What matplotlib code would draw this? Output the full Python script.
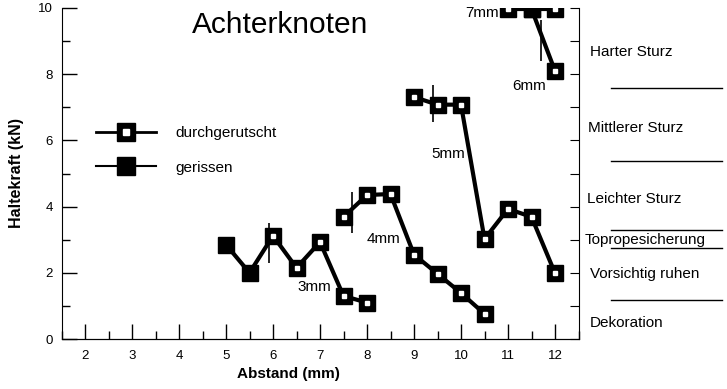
import matplotlib
matplotlib.use('Agg')
import matplotlib.pyplot as plt
from matplotlib.lines import Line2D
from matplotlib.legend_handler import HandlerTuple
from matplotlib.ticker import MultipleLocator

plt.rcParams['font.family'] = ['Liberation Sans', 'DejaVu Sans']

# data: each rope test run (x = Abstand in mm, y = Haltekraft in kN)
# filled = gerissen, open = durchgerutscht
x_3mm = [5, 5.5, 6, 6.5, 7, 7.5, 8]
y_3mm = [2.85, 2.0, 3.12, 2.15, 2.93, 1.3, 1.1]
torn_3mm = [True, True, False, False, False, False, False]

x_4mm = [7.5, 8, 8.5, 9, 9.5, 10, 10.5]
y_4mm = [3.69, 4.35, 4.38, 2.55, 1.97, 1.39, 0.76]
torn_4mm = [False] * 7

x_5mm = [9, 9.5, 10, 10.5, 11, 11.5, 12]
y_5mm = [7.31, 7.08, 7.08, 3.02, 3.93, 3.69, 1.99]
torn_5mm = [False] * 7

x_6mm = [11.5, 12]
y_6mm = [9.97, 8.1]
torn_6mm = [True, False]

x_7mm = [11, 11.5, 12]
y_7mm = [9.97, 9.97, 9.97]
torn_7mm = [False, True, False]

# vertical error bars (x, low, high)
err_x = [5.91, 7.68, 9.40, 11.70]
err_lo = [2.3, 3.2, 6.56, 8.4]
err_hi = [3.5, 4.44, 7.67, 9.64]

# series labels
labels = ['3mm', '4mm', '5mm', '6mm', '7mm']
label_x = [6.53, 8.0, 9.36, 11.09, 10.1]
label_y = [1.57, 3.02, 5.59, 7.64, 9.85]

# fall categories on the right
cat_names = ['Harter Sturz', 'Mittlerer Sturz', 'Leichter Sturz',
             'Topropesicherung', 'Vorsichtig ruhen', 'Dekoration']
cat_px = [(590, 52), (588, 128), (587, 199), (585, 240), (590, 274), (590, 323)]
sep_py = [88, 161, 230, 248, 300]

W, H = 727, 389
fig = plt.figure(figsize=(W / 100, H / 100), dpi=100)
ax = fig.add_axes([61.5 / W, 1 - 339 / H, (578.5 - 61.5) / W, (339 - 8) / H])

series = [(x_3mm, y_3mm, torn_3mm), (x_4mm, y_4mm, torn_4mm),
          (x_5mm, y_5mm, torn_5mm), (x_7mm, y_7mm, torn_7mm),
          (x_6mm, y_6mm, torn_6mm)]

for xs, ys, torn in series:
    ax.plot(xs, ys, color='black', lw=3, zorder=2)
    ax.plot(xs, ys, ls='none', marker='s', ms=12, mfc='black', mec='black', zorder=3)
    xo = [a for a, t in zip(xs, torn) if not t]
    yo = [b for b, t in zip(ys, torn) if not t]
    # little white notch inside the open markers
    ax.plot(xo, yo, ls='none', marker='s', ms=3.5, mfc='white', mec='white', zorder=4)

ax.vlines(err_x, err_lo, err_hi, color='black', lw=1.2, zorder=5)

for t, lx, ly in zip(labels, label_x, label_y):
    ax.text(lx, ly, t, fontsize=11, ha='left', va='center')

ax.text(6.15, 9.5, 'Achterknoten', fontsize=21.5, ha='center', va='center')

ax.set_xlim(1.5, 12.5)
ax.set_ylim(0, 10)
ax.spines['top'].set_visible(False)
ax.spines['right'].set_visible(False)
ax.xaxis.set_major_locator(MultipleLocator(1))
ax.xaxis.set_minor_locator(MultipleLocator(0.5))
ax.yaxis.set_major_locator(MultipleLocator(2))
ax.yaxis.set_minor_locator(MultipleLocator(1))
ax.tick_params(which='major', direction='in', length=10.5, width=1, labelsize=9.5)
ax.tick_params(which='minor', direction='in', length=5.5, width=1)
ax.tick_params(axis='x', which='major', pad=8)
ax.tick_params(axis='y', which='major', pad=6)
ax.set_xlabel('Abstand (mm)', fontsize=11, fontweight='bold', labelpad=4)
ax.xaxis.set_label_coords((288 - 61.5) / 517, -0.085)
ax.set_ylabel('Haltekraft (kN)', fontsize=11.5, fontweight='bold', labelpad=10)

# right axis with plain ticks every 1 kN
ax2 = ax.twinx()
ax2.set_ylim(0, 10)
ax2.spines['top'].set_visible(False)
ax2.spines['left'].set_visible(False)
ax2.yaxis.set_major_locator(MultipleLocator(1))
ax2.tick_params(direction='in', length=6.5, labelright=False)

# legend
open_h = (Line2D([], [], color='black', lw=2, marker='s', ms=13.5, mfc='black', mec='black'),
          Line2D([], [], ls='none', marker='s', ms=4, mfc='white', mec='white'))
torn_h = Line2D([], [], color='black', lw=1.5, marker='s', ms=13.5, mfc='black', mec='black')
ax.legend([open_h, torn_h], ['durchgerutscht', 'gerissen'],
          handler_map={tuple: HandlerTuple(ndivide=1, pad=0)},
          loc='upper left', bbox_to_anchor=(0.04, 0.685), frameon=False,
          fontsize=11, handlelength=3.9, handletextpad=1.3, labelspacing=1.35)

for name, (px, py) in zip(cat_names, cat_px):
    fig.text(px / W, 1 - py / H, name, fontsize=11, ha='left', va='center')
for py in sep_py:
    fig.add_artist(Line2D([611 / W, 722 / W], [1 - py / H, 1 - py / H],
                          color='black', lw=1))

fig.savefig('out.png', dpi=100)
